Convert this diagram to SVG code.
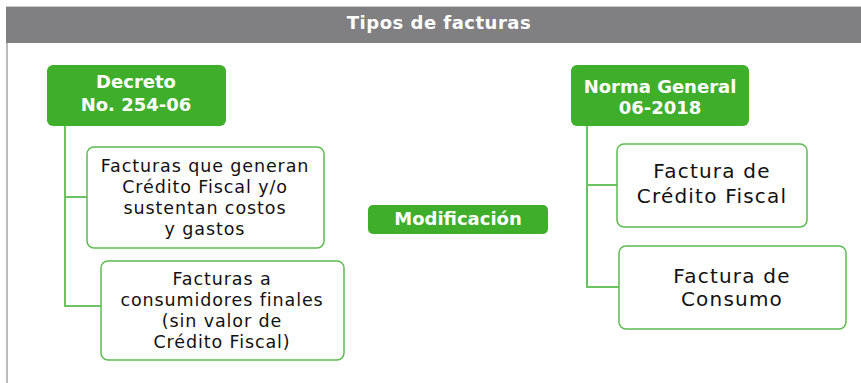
<svg xmlns="http://www.w3.org/2000/svg" width="861" height="383" viewBox="0 0 861 383">
<style>
.hdr{fill:#808083}
.g{fill:#3fae2b}
.w{fill:#ffffff;stroke:#5dbb52;stroke-width:1.5}
.ln{fill:none;stroke:#6cc363;stroke-width:2}
.bt{font-family:"DejaVu Sans",sans-serif;font-weight:bold;font-size:18px;fill:#ffffff;text-anchor:middle}
.t{font-family:"DejaVu Sans",sans-serif;font-size:17.5px;letter-spacing:0.9px;fill:#111111;text-anchor:middle}
.t2{font-family:"DejaVu Sans",sans-serif;font-size:20px;letter-spacing:1.2px;fill:#111111;text-anchor:middle}
</style>
<rect x="0" y="0" width="861" height="383" fill="#ffffff"/>
<g id="header">
<rect x="6" y="6" width="855" height="37" class="hdr"/>
<line x1="6" y1="6.5" x2="861" y2="6.5" stroke="#c8c8c8" stroke-width="1"/>
<line x1="7" y1="43" x2="7" y2="383" stroke="#a6a6a6" stroke-width="1.5"/>
<text class="bt" x="439" y="29" font-size="18.5px" letter-spacing="0.5px">Tipos de facturas</text>
</g>
<g id="connectors">
<path class="ln" d="M65 126 V306 H101 M65 197 H87"/>
<path class="ln" d="M587 126 V287 H619 M587 185 H617"/>
</g>
<g id="decreto">
<rect x="47" y="65" width="179" height="61" rx="6" class="g"/>
<text class="bt" x="136" y="88">Decreto</text>
<text class="bt" x="136" y="111">No. 254-06</text>
</g>
<g id="facturas-credito">
<rect x="87" y="147" width="237" height="101" rx="7" class="w"/>
<text class="t" x="205" y="172">Facturas que generan</text>
<text class="t" x="205" y="193">Crédito Fiscal y/o</text>
<text class="t" x="205" y="214">sustentan costos</text>
<text class="t" x="205" y="235">y gastos</text>
</g>
<g id="facturas-consumidores">
<rect x="101" y="261" width="243" height="99" rx="7" class="w"/>
<text class="t" x="222" y="285">Facturas a</text>
<text class="t" x="222" y="306">consumidores finales</text>
<text class="t" x="222" y="327">(sin valor de</text>
<text class="t" x="222" y="348">Crédito Fiscal)</text>
</g>
<g id="modificacion">
<rect x="368" y="205" width="180" height="29" rx="5" class="g"/>
<text class="bt" x="458" y="225" font-size="17px">Modificación</text>
</g>
<g id="norma">
<rect x="571" y="65" width="178" height="61" rx="6" class="g"/>
<text class="bt" x="660" y="93">Norma General</text>
<text class="bt" x="660" y="114">06-2018</text>
</g>
<g id="factura-credito">
<rect x="617" y="144" width="190" height="83" rx="7" class="w"/>
<text class="t2" x="712" y="178">Factura de</text>
<text class="t2" x="712" y="203">Crédito Fiscal</text>
</g>
<g id="factura-consumo">
<rect x="619" y="246" width="227" height="83" rx="7" class="w"/>
<text class="t2" x="732" y="283">Factura de</text>
<text class="t2" x="732" y="306">Consumo</text>
</g>
</svg>
